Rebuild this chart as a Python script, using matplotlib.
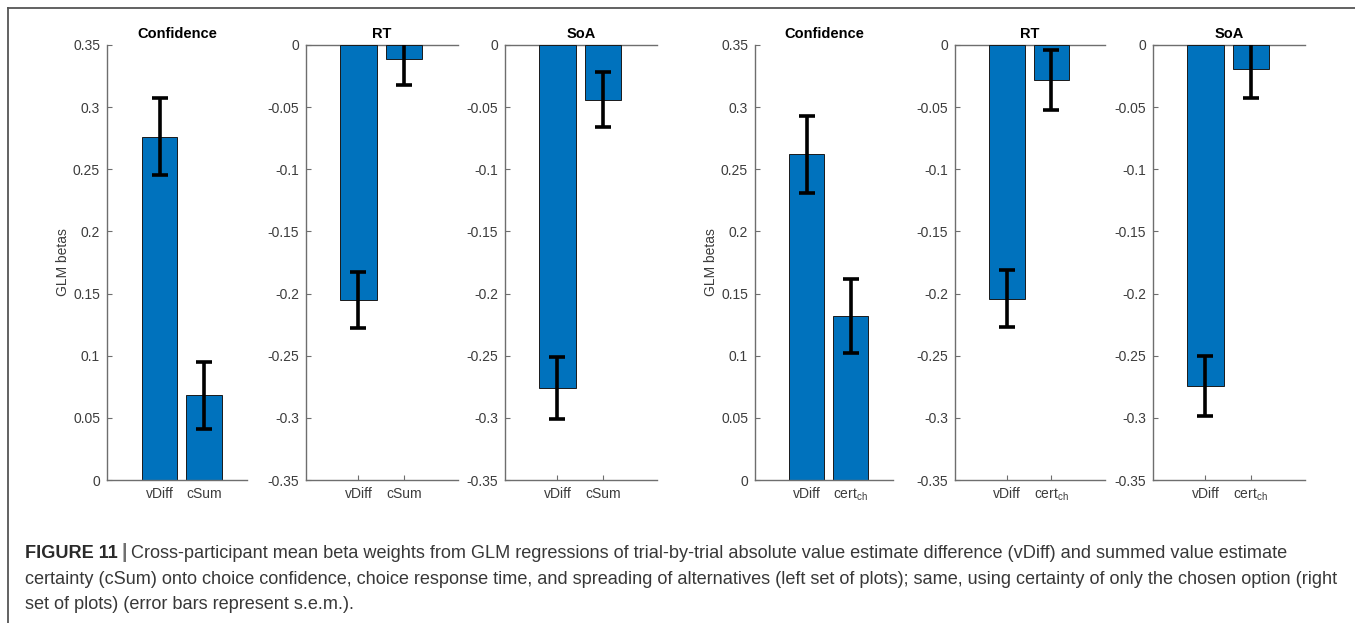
import numpy as np
import matplotlib
matplotlib.use("Agg")
import matplotlib.pyplot as plt
from matplotlib.lines import Line2D

plt.rcParams["font.family"] = ["Liberation Sans", "DejaVu Sans"]

W, H = 1355, 623

# ---- data ----
titles = ["Confidence", "RT", "SoA"]
left_labels = ["vDiff", "cSum"]
right_labels = ["vDiff", r"cert$_{\mathregular{ch}}$"]

conf_left = [0.276, 0.068]
conf_left_sem = [0.031, 0.027]
rt_left = [-0.205, -0.011]
rt_left_sem = [0.0225, 0.021]
soa_left = [-0.276, -0.044]
soa_left_sem = [0.025, 0.022]

conf_right = [0.262, 0.132]
conf_right_sem = [0.031, 0.030]
rt_right = [-0.204, -0.028]
rt_right_sem = [0.023, 0.024]
soa_right = [-0.2745, -0.0195]
soa_right_sem = [0.024, 0.023]

caption_head = "FIGURE 11"
caption_lines = [
    "Cross-participant mean beta weights from GLM regressions of trial-by-trial absolute value estimate difference (vDiff) and summed value estimate",
    "certainty (cSum) onto choice confidence, choice response time, and spreading of alternatives (left set of plots); same, using certainty of only the chosen option (right",
    "set of plots) (error bars represent s.e.m.).",
]

BAR_C = "#0072BD"
AX_C = "#6e6e6e"
TXT_C = "#3c3c3c"

fig = plt.figure(figsize=(W / 100, H / 100), dpi=100)


def panel(x0, x1, means, sems, labels, title, xlim, ylabel=None):
    ax = fig.add_axes([x0 / W, 1 - 480 / H, (x1 - x0) / W, 435 / H])
    x = np.arange(1, len(means) + 1)
    ax.bar(x, means, width=0.8, color=BAR_C, edgecolor="#1a1a1a", linewidth=0.7, zorder=2)
    ax.errorbar(x, means, yerr=sems, fmt="none", ecolor="black", elinewidth=2.6,
                capsize=5.5, capthick=2.6, zorder=3, clip_on=True)
    neg = max(means) <= 0
    if neg:
        ax.set_ylim(-0.35, 0)
        ticks = np.round(np.arange(-0.35, 0.001, 0.05), 2)
        ax.axhline(0, color=AX_C, lw=1.0, zorder=1, clip_on=False)
    else:
        ax.set_ylim(0, 0.35)
        ticks = np.round(np.arange(0, 0.351, 0.05), 2)
    ax.set_yticks(ticks)
    ax.set_yticklabels([f"{t:g}" if t != 0 else "0" for t in ticks])
    ax.set_xlim(*xlim)
    ax.set_xticks(x)
    ax.set_xticklabels(labels)
    for s in ["top", "right"]:
        ax.spines[s].set_visible(False)
    for s in ["left", "bottom"]:
        ax.spines[s].set_color(AX_C)
        ax.spines[s].set_linewidth(1.0)
    ax.tick_params(direction="in", length=3.5, width=0.8, color=AX_C,
                   labelcolor=TXT_C, labelsize=10, pad=5)
    ax.set_title(title, fontsize=10.5, fontweight="bold", pad=5)
    if ylabel:
        ax.set_ylabel(ylabel, fontsize=10, color=TXT_C, labelpad=2)
    ax.patch.set_alpha(0)
    return ax


panel(107, 247, conf_left, conf_left_sem, left_labels, titles[0], (-0.18, 2.96), "GLM betas")
panel(306, 458, rt_left, rt_left_sem, left_labels, titles[1], (-0.16, 3.2))
panel(505, 657, soa_left, soa_left_sem, left_labels, titles[2], (-0.16, 3.2))
panel(755, 893, conf_right, conf_right_sem, right_labels, titles[0], (-0.18, 2.96), "GLM betas")
panel(955, 1105, rt_right, rt_right_sem, right_labels, titles[1], (-0.16, 3.2))
panel(1153, 1305, soa_right, soa_right_sem, right_labels, titles[2], (-0.16, 3.2))

# frame around the figure box
fig.add_artist(Line2D([8 / W, 1], [1 - 8 / H, 1 - 8 / H], color="#555555", lw=1.3))
fig.add_artist(Line2D([8 / W, 8 / W], [0, 1 - 8 / H], color="#555555", lw=1.3))

# caption
cap_size = 13.05
cap_c = "#383838"
y0 = 1 - 553 / H
head = fig.text(25 / W, y0, caption_head, fontsize=cap_size, fontweight="bold",
                color="#2a2a2a", va="center")
fig.canvas.draw()
r = fig.canvas.get_renderer()
bb = head.get_window_extent(r)
bar_t = fig.text((bb.x1 + 4) / W, y0, "|", fontsize=cap_size + 1, color="#707070",
                 fontweight="bold", va="center")
bb2 = bar_t.get_window_extent(r)
fig.text((bb2.x1 + 4) / W, y0, caption_lines[0], fontsize=cap_size, color=cap_c, va="center")
for i, line in enumerate(caption_lines[1:]):
    fig.text(25 / W, 1 - (579 + 25.5 * i) / H, line, fontsize=cap_size, color=cap_c, va="center")

fig.savefig("out.png", dpi=100)
